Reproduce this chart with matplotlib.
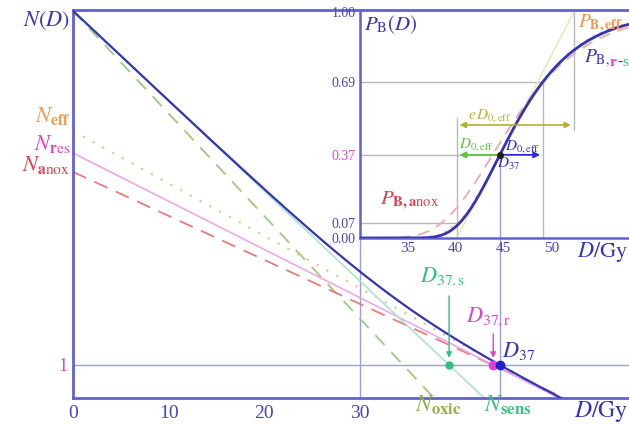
import numpy as np
import matplotlib
matplotlib.use("Agg")
import matplotlib.pyplot as plt
from matplotlib.ticker import NullLocator

plt.rcParams['font.family'] = ['Liberation Serif', 'DejaVu Serif']
plt.rcParams['mathtext.fontset'] = 'stix'

# clonogen numbers: ln of initial count and D0 (Gy) for each population
ln_n0_sens, d0_sens = 15.0, 2.62
ln_n0_res, d0_res = 8.98, 4.89
ln_n0_oxic, d0_oxic = 15.0, 2.30
ln_n0_anox, d0_anox = 8.18, 5.36
d0_eff = 4.5

main_xticks = [0, 10, 20, 30]
inset_xticks = [35, 40, 45, 50]
inset_yticks = [0.0, np.exp(-np.e), np.exp(-1.0), np.exp(-1.0 / np.e), 1.0]
inset_ylabels = ['0.00', '0.07', '0.37', '0.69', '1.00']

# colours
BLUE = '#3434b4'
SPINE = '#6060d4'
GUIDE = '#9c9ce6'
GRAY = '#b8b8b8'
OXIC = '#a8c884'
SENS = '#a4e2c8'
EFF = '#e2c894'
RES = '#e8a4e8'
ANOX = '#e87c7c'
ORANGE = '#f0964a'
MAGENTA = '#e040d0'
RED = '#e0404c'
GREEN = '#30c080'
OLIVE = '#b2b234'
TICKBLUE = '#4444c0'

D = np.linspace(0, 60, 6001)
n_sens = np.exp(ln_n0_sens - D / d0_sens)
n_res = np.exp(ln_n0_res - D / d0_res)
n_tot = n_sens + n_res
n_oxic = np.exp(ln_n0_oxic - D / d0_oxic)
n_anox = np.exp(ln_n0_anox - D / d0_anox)

d37 = np.interp(0.0, -np.log(n_tot), D)
d37_s = ln_n0_sens * d0_sens
d37_r = ln_n0_res * d0_res
n_eff = np.exp(-(D - d37) / d0_eff)

p_tot = np.exp(-n_tot)
p_anox = np.exp(-n_anox)
p_eff = np.exp(-n_eff)
tan_lo = d37 - d0_eff                # tangent of P_eff at D37 reaches 0
tan_hi = d37 + (np.e - 1.0) * d0_eff  # ... and reaches 1

W, H = 629, 425
fig = plt.figure(figsize=(W / 100, H / 100), dpi=100)
px_l, px_r, px_b, px_t = 73, 629, 398, 10
ax = fig.add_axes([px_l / W, 1 - px_b / H, (px_r - px_l) / W, (px_b - px_t) / H])
ax.set_xlim(0, 58.1)
ax.set_yscale('log')
ax.set_ylim(np.exp(-1.4), np.exp(15.04))

for s in ['left', 'bottom', 'top']:
    ax.spines[s].set_color(SPINE)
    ax.spines[s].set_linewidth(2)
ax.spines['right'].set_visible(False)

inset_bottom = (px_b - 238) / (px_b - px_t)
inset_top = (px_b - 12) / (px_b - px_t)

ax.axhline(1.0, color=GUIDE, lw=1, zorder=1)
ax.axvline(30, ymax=inset_bottom, color=GUIDE, lw=1, zorder=1)
ax.axvline(d37, ymax=inset_bottom, color=GUIDE, lw=1, zorder=1)

ax.plot(D, n_oxic, color=OXIC, lw=1.4, dashes=(7, 5), zorder=2)
ax.plot(D, n_anox, color=ANOX, lw=1.3, dashes=(8, 5), zorder=2)
ax.plot(D, n_eff, color=EFF, lw=1.6, dashes=(1, 4), zorder=2)
ax.plot(D, n_res, color=RES, lw=1.1, zorder=2)
ax.plot(D, n_sens, color=SENS, lw=1.1, zorder=2)
ax.plot(D, n_tot, color=BLUE, lw=1.6, zorder=3)

ax.plot([d37_s], [1.0], 'o', color=GREEN, ms=5, zorder=4)
ax.plot([d37_r], [1.0], 'o', color=MAGENTA, ms=6, zorder=4)
ax.plot([d37], [1.0], 'o', color='#2020d0', ms=6, zorder=5)

ax.annotate('', xy=(d37_s, 1.2), xytext=(d37_s, 21),
            arrowprops=dict(arrowstyle='-|>', color=GREEN, lw=1, mutation_scale=8))
ax.annotate('', xy=(d37_r, 1.2), xytext=(d37_r, 4.2),
            arrowprops=dict(arrowstyle='-|>', color=MAGENTA, lw=1, mutation_scale=8))

ax.text(36.3, 33.7, r'$D_{37.\mathrm{s}}$', color=GREEN, fontsize=16, va='baseline')
ax.text(41.1, 6.2, r'$D_{37.\mathrm{r}}$', color=MAGENTA, fontsize=16, va='baseline')
ax.text(44.8, 1.40, r'$D_{37}$', color=BLUE, fontsize=16, va='baseline')
ax.text(35.7, 0.137, r'$N_{\mathbf{oxic}}$', color='#90b040', fontsize=17,
        va='baseline', clip_on=False)
ax.text(43.0, 0.137, r'$N_{\mathbf{sens}}$', color=GREEN, fontsize=17,
        va='baseline', clip_on=False)

ax.set_xticks(main_xticks)
ax.set_xticklabels([str(t) for t in main_xticks], fontsize=14, color=TICKBLUE)
ax.tick_params(axis='x', length=0, pad=5)
ax.set_yticks([1.0])
ax.set_yticklabels(['1'], fontsize=13, color=MAGENTA)
ax.yaxis.set_minor_locator(NullLocator())
ax.tick_params(axis='y', length=0, pad=4)

fig.text(628 / W, 1 - 417 / H, r'$D/\mathrm{Gy}$', color=BLUE, fontsize=17,
         ha='right', va='baseline')
fig.text(70 / W, 1 - 26 / H, r'$N(D)$', color=BLUE, fontsize=16, ha='right', va='baseline')
fig.text(70 / W, 1 - 122 / H, r'$N_{\mathbf{eff}}$', color=ORANGE, fontsize=16,
         ha='right', va='baseline')
fig.text(70 / W, 1 - 150 / H, r'$N_{\mathbf{r}\mathrm{es}}$', color=MAGENTA, fontsize=16,
         ha='right', va='baseline')
fig.text(70 / W, 1 - 171 / H, r'$N_{\mathbf{a}\mathrm{nox}}$', color=RED, fontsize=16,
         ha='right', va='baseline')

# dose-response inset sharing the dose scale
axi = ax.inset_axes([30, inset_bottom, 58.1 - 30, inset_top - inset_bottom],
                    transform=ax.get_xaxis_transform())
axi.set_xlim(30, 58.1)
axi.set_ylim(0, 1)
for s in ['left', 'bottom']:
    axi.spines[s].set_color(SPINE)
    axi.spines[s].set_linewidth(1.8)
for s in ['top', 'right']:
    axi.spines[s].set_visible(False)

g = dict(color=GRAY, lw=1, zorder=1)
axi.plot([30, d37 + d0_eff], [inset_yticks[3]] * 2, **g)
axi.plot([30, d37], [inset_yticks[2]] * 2, **g)
axi.plot([30, d37 - d0_eff], [inset_yticks[1]] * 2, **g)
axi.plot([d37 - d0_eff] * 2, [0, 0.53], **g)
axi.plot([d37 + d0_eff] * 2, [0, inset_yticks[3]], **g)
axi.plot([tan_hi] * 2, [0.48, 1.0], **g)
axi.plot([d37] * 2, [0, inset_yticks[2]], color=GUIDE, lw=1, zorder=1)

axi.plot([tan_lo, tan_hi], [0, 1], color='#e6e6b0', lw=1, zorder=2)
axi.plot(D, p_anox, color='#e8b0b0', lw=1.4, dashes=(6, 4), zorder=2)
axi.plot(D, p_eff, color=EFF, lw=1.4, dashes=(1, 3), zorder=2)
axi.plot(D, p_tot, color=BLUE, lw=2, zorder=3)

axi.annotate('', xy=(tan_lo, 0.5), xytext=(tan_hi, 0.5),
             arrowprops=dict(arrowstyle='<|-|>', color=OLIVE, lw=1.2, mutation_scale=9))
axi.annotate('', xy=(d37 - d0_eff, inset_yticks[2]), xytext=(d37, inset_yticks[2]),
             arrowprops=dict(arrowstyle='-|>', color='#60c040', lw=1.3, mutation_scale=9))
axi.annotate('', xy=(d37 + d0_eff, inset_yticks[2]), xytext=(d37, inset_yticks[2]),
             arrowprops=dict(arrowstyle='-|>', color='#2a2ae0', lw=1.3, mutation_scale=9))
axi.plot([d37], [inset_yticks[2]], 'o', color='#202020', ms=4, zorder=5)

axi.text(41.3, 0.53, r'$e\,D_{0,\mathrm{eff}}$', color=OLIVE, fontsize=11, va='baseline')
axi.text(40.3, 0.40, r'$D_{0,\mathrm{eff}}$', color='#60c040', fontsize=11, va='baseline')
axi.text(45.1, 0.39, r'$D_{0,\mathrm{eff}}$', color='#2a2ae0', fontsize=11, va='baseline')
axi.text(44.3, 0.31, r'$D_{37}$', color=BLUE, fontsize=11, va='baseline')
axi.text(30.4, 0.995, r'$P_{\mathrm{B}}(D)$', color=BLUE, fontsize=15, va='top')
axi.text(52.8, 0.995, r'$P_{\mathbf{B,eff}}$', color=ORANGE, fontsize=14, va='top')
axi.text(32.1, 0.146, r'$P_{\mathbf{B,a}\mathrm{nox}}$', color=RED, fontsize=15, va='baseline')

# P_B,r-s with coloured sub-population letters
t = axi.text(53.4, 0.78, r'$P_{\mathrm{B,}}$', color=BLUE, fontsize=14, va='baseline')
parts = [('r', MAGENTA, 'bold'), ('-', BLUE, 'normal'), ('s', GREEN, 'normal')]
prev = t
for txt, col, wt in parts:
    prev = axi.annotate(txt, xy=(1, 0), xycoords=prev, xytext=(0.2, 0),
                        textcoords='offset points', fontsize=11, color=col,
                        weight=wt, va='bottom', ha='left')

axi.set_xticks(inset_xticks)
axi.set_xticklabels([str(v) for v in inset_xticks], fontsize=11, color=TICKBLUE)
axi.set_yticks(inset_yticks)
axi.set_yticklabels(inset_ylabels, fontsize=10)
for lab, col in zip(axi.get_yticklabels(),
                    [TICKBLUE, TICKBLUE, MAGENTA, TICKBLUE, TICKBLUE]):
    lab.set_color(col)
axi.tick_params(length=0, pad=3)

fig.text(628 / W, 1 - 257 / H, r'$D/\mathrm{Gy}$', color=BLUE, fontsize=16,
         ha='right', va='baseline')

fig.savefig('out.png', dpi=100)
